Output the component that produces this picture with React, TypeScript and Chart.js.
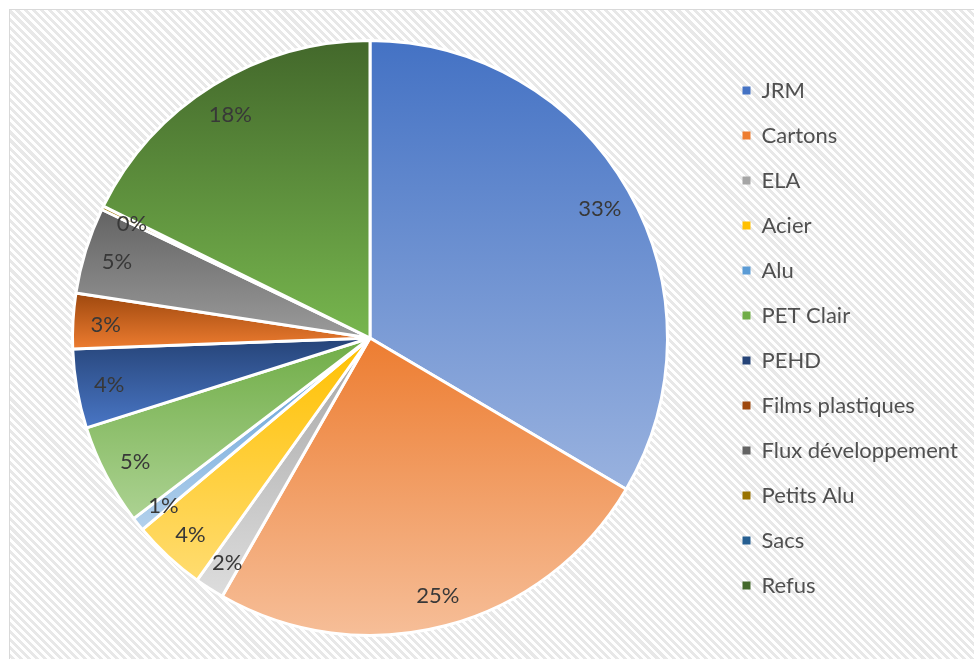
import React, { useEffect, useRef } from "react";
import { Chart, registerables } from "chart.js";

Chart.register(...registerables);

const categories = [
  "JRM",
  "Cartons",
  "ELA",
  "Acier",
  "Alu",
  "PET Clair",
  "PEHD",
  "Films plastiques",
  "Flux développement",
  "Petits Alu",
  "Sacs",
  "Refus",
];
const shares = [33.5, 24.8, 1.6, 4.0, 0.75, 5.5, 4.3, 3.0, 4.7, 0.2, 0, 17.7];
const baseColors = [
  "#4472C4",
  "#ED7D31",
  "#A5A5A5",
  "#FFC000",
  "#5B9BD5",
  "#70AD47",
  "#264478",
  "#9E480E",
  "#636363",
  "#997300",
  "#255E91",
  "#43682B",
];

const FONT = "Lato, 'Open Sans', sans-serif";
const FONT_SIZE = 22;
const CANVAS_W = 970;
const CANVAS_H = 660;

function hexToRgb(hex: string) {
  const h = hex.replace("#", "");
  return [
    parseInt(h.slice(0, 2), 16),
    parseInt(h.slice(2, 4), 16),
    parseInt(h.slice(4, 6), 16),
  ];
}

function lighten(hex: string, amt: number) {
  let [r, g, b] = hexToRgb(hex).map((v) => v / 255);
  const max = Math.max(r, g, b);
  const min = Math.min(r, g, b);
  let h = 0;
  let s = 0;
  let l = (max + min) / 2;
  if (max !== min) {
    const d = max - min;
    s = l > 0.5 ? d / (2 - max - min) : d / (max + min);
    if (max === r) h = (g - b) / d + (g < b ? 6 : 0);
    else if (max === g) h = (b - r) / d + 2;
    else h = (r - g) / d + 4;
    h /= 6;
  }
  l = Math.min(0.95, l + amt);
  const hue2rgb = (p: number, q: number, t: number) => {
    if (t < 0) t += 1;
    if (t > 1) t -= 1;
    if (t < 1 / 6) return p + (q - p) * 6 * t;
    if (t < 1 / 2) return q;
    if (t < 2 / 3) return p + (q - p) * (2 / 3 - t) * 6;
    return p;
  };
  let rr, gg, bb;
  if (s === 0) {
    rr = gg = bb = l;
  } else {
    const q = l < 0.5 ? l * (1 + s) : l + s - l * s;
    const p = 2 * l - q;
    rr = hue2rgb(p, q, h + 1 / 3);
    gg = hue2rgb(p, q, h);
    bb = hue2rgb(p, q, h - 1 / 3);
  }
  return `rgb(${Math.round(rr * 255)}, ${Math.round(gg * 255)}, ${Math.round(bb * 255)})`;
}

function angleIn(a: number, s: number, e: number) {
  const TWO = Math.PI * 2;
  for (let k = -2; k <= 2; k++) {
    const t = a + k * TWO;
    if (t >= s && t <= e) return true;
  }
  return false;
}

function sliceFill(context: any) {
  const i = context.dataIndex;
  const base = baseColors[i];
  const el = context.element;
  if (!el || !el.outerRadius) return base;
  const { y, startAngle, endAngle, outerRadius } = el;
  const ys = [y, y + outerRadius * Math.sin(startAngle), y + outerRadius * Math.sin(endAngle)];
  if (angleIn(-Math.PI / 2, startAngle, endAngle)) ys.push(y - outerRadius);
  if (angleIn(Math.PI / 2, startAngle, endAngle)) ys.push(y + outerRadius);
  const minY = Math.min(...ys);
  const maxY = Math.max(...ys);
  if (maxY - minY < 1) return base;
  const g = context.chart.ctx.createLinearGradient(0, minY, 0, maxY);
  g.addColorStop(0, base);
  g.addColorStop(1, lighten(base, 0.22));
  return g;
}

const pctLabels = {
  id: "pctLabels",
  afterDatasetsDraw(chart: any) {
    const meta = chart.getDatasetMeta(0);
    const data = chart.data.datasets[0].data as number[];
    const total = data.reduce((a, b) => a + b, 0);
    const ctx = chart.ctx;
    ctx.save();
    ctx.font = `${FONT_SIZE}px ${FONT}`;
    ctx.fillStyle = "#383838";
    ctx.textAlign = "center";
    ctx.textBaseline = "middle";
    meta.data.forEach((arc: any, i: number) => {
      const v = data[i];
      if (!v) return;
      const { x, y, startAngle, endAngle, outerRadius } = arc.getProps(
        ["x", "y", "startAngle", "endAngle", "outerRadius"],
        true
      );
      const mid = (startAngle + endAngle) / 2;
      const r = outerRadius * 0.89;
      ctx.fillText(
        Math.round((v / total) * 100) + "%",
        x + Math.cos(mid) * r,
        y + Math.sin(mid) * r + 2
      );
    });
    ctx.restore();
  },
};

export default function App() {
  const canvasRef = useRef<HTMLCanvasElement | null>(null);

  useEffect(() => {
    let chart: Chart | null = null;
    let cancelled = false;

    const build = () => {
      if (cancelled || !canvasRef.current) return;
      const mctx = document.createElement("canvas").getContext("2d")!;
      mctx.font = `${FONT_SIZE}px ${FONT}`;
      const textW = Math.max(...categories.map((c) => mctx.measureText(c).width));
      const labelPad = 23;
      const boxW = 8;
      const legendLeft = 709.5;
      const legendWidth = labelPad + boxW + FONT_SIZE / 2 + textW + 10;
      const padRight = CANVAS_W - (legendLeft + legendWidth);
      const padLeft = 2 * 360 - legendLeft;

      chart = new Chart(canvasRef.current, {
        type: "pie",
        data: {
          labels: categories,
          datasets: [
            {
              data: shares,
              backgroundColor: sliceFill as any,
              borderColor: "#ffffff",
              borderWidth: 3,
            },
          ],
        },
        options: {
          responsive: false,
          animation: false,
          layout: {
            padding: { left: padLeft, right: padRight, top: 29, bottom: CANVAS_H - 627 },
          },
          plugins: {
            tooltip: { enabled: false },
            legend: {
              position: "right",
              align: "center",
              labels: {
                boxWidth: boxW,
                boxHeight: 8,
                padding: labelPad,
                color: "#505050",
                font: { family: FONT, size: FONT_SIZE },
                generateLabels: (c: any) =>
                  c.data.labels.map((t: string, i: number) => ({
                    text: t,
                    fillStyle: baseColors[i],
                    strokeStyle: "#ffffff",
                    lineWidth: 0,
                    fontColor: "#505050",
                    hidden: false,
                    index: i,
                  })),
              },
            },
          },
        },
        plugins: [pctLabels],
      });
      chart.update();
    };

    const fontsReady = (document as any).fonts
      ? Promise.all([(document as any).fonts.load(`${FONT_SIZE}px Lato`)]).catch(() => null)
      : Promise.resolve(null);
    fontsReady.then(build);

    return () => {
      cancelled = true;
      if (chart) chart.destroy();
    };
  }, []);

  return (
    <div
      style={{
        position: "fixed",
        left: 9,
        top: 9,
        width: CANVAS_W,
        height: CANVAS_H,
        border: "1px solid #d9d9d9",
        background:
          "repeating-linear-gradient(45deg, #ffffff 0px, #ffffff 2.8px, #e8e8e8 2.8px, #e8e8e8 5.7px)",
      }}
    >
      <canvas
        ref={canvasRef}
        width={CANVAS_W}
        height={CANVAS_H}
        style={{ display: "block", width: CANVAS_W, height: CANVAS_H }}
      />
    </div>
  );
}
